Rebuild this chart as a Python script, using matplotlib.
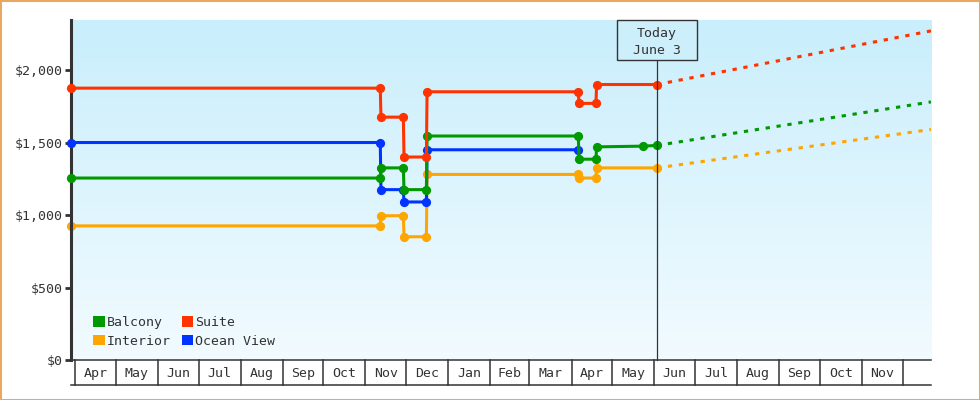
import matplotlib
matplotlib.use('Agg')
import matplotlib.pyplot as plt
import matplotlib.dates as mdates
import numpy as np
import pandas as pd
from matplotlib.patches import Patch, Rectangle
from matplotlib.transforms import blended_transform_factory

# ---------------- data ----------------
step_dates = ['2023-03-29', '2023-11-12', '2023-11-12 12:00', '2023-11-29', '2023-11-29 12:00',
              '2023-12-16', '2023-12-16 12:00', '2024-04-06', '2024-04-06 12:00', '2024-04-19',
              '2024-04-19 12:00', '2024-06-03']
balcony_dates = ['2023-03-29', '2023-11-12', '2023-11-12 12:00', '2023-11-29', '2023-11-29 12:00',
                 '2023-12-16', '2023-12-16 12:00', '2024-04-06', '2024-04-06 12:00', '2024-04-19',
                 '2024-04-19 12:00', '2024-05-24', '2024-06-03']
balcony_prices = [1255, 1255, 1325, 1325, 1175, 1175, 1545, 1545, 1385, 1385, 1470, 1475, 1480]
suite_prices = [1875, 1875, 1675, 1675, 1400, 1400, 1850, 1850, 1770, 1770, 1900, 1900]
ocean_dates = step_dates[:8]
ocean_prices = [1500, 1500, 1175, 1175, 1090, 1090, 1450, 1450]
interior_prices = [925, 925, 995, 995, 850, 850, 1280, 1280, 1255, 1255, 1325, 1325]

today = '2024-06-03'
today_label = 'Today\nJune 3'
proj_end = '2024-12-22'
suite_proj = [1900, 2270]
balcony_proj = [1480, 1780]
interior_proj = [1325, 1590]

x_start, x_end = '2023-03-29', '2024-12-22'
month_starts = pd.date_range('2023-04-01', '2024-12-01', freq='MS')
month_labels = ['Apr', 'May', 'Jun', 'Jul', 'Aug', 'Sep', 'Oct', 'Nov', 'Dec', 'Jan',
                'Feb', 'Mar', 'Apr', 'May', 'Jun', 'Jul', 'Aug', 'Sep', 'Oct', 'Nov']
y_ticks = [0, 500, 1000, 1500, 2000]
y_tick_labels = ['$0', '$500', '$1,000', '$1,500', '$2,000']

series = [
    ('Interior', step_dates, interior_prices, interior_proj, '#ffa500', 2),
    ('Ocean View', ocean_dates, ocean_prices, None, '#0033ff', 3),
    ('Balcony', balcony_dates, balcony_prices, balcony_proj, '#009900', 4),
    ('Suite', step_dates, suite_prices, suite_proj, '#ff3300', 5),
]

# ---------------- style ----------------
FONT = 'DejaVu Sans Mono'
FS = 9.5
TXT = '#333333'

fig = plt.figure(figsize=(9.8, 4.0), dpi=100)
fig.patch.set_facecolor('white')
ax = fig.add_axes([71 / 980, 40 / 400, 860 / 980, 340 / 400])

x0 = mdates.date2num(pd.Timestamp(x_start))
x1 = mdates.date2num(pd.Timestamp(x_end))
ax.set_xlim(x0, x1)
ax.set_ylim(0, 2345)

# gradient background
top_c = np.array([0xc9, 0xee, 0xfc]) / 255
bot_c = np.array([0xf2, 0xfb, 0xff]) / 255
t = np.linspace(0, 1, 256)[:, None]
grad = (top_c[None, :] * (1 - t) + bot_c[None, :] * t)[:, None, :]
ax.imshow(grad, extent=[0, 1, 0, 1], transform=ax.transAxes, aspect='auto', zorder=0)
ax.set_facecolor('none')

for name, d, v, proj, col, z in series:
    dd = pd.to_datetime(d, format='mixed')
    ax.plot(dd, v, color=col, lw=2.2, marker='o', ms=5.6, mec=col, mfc=col,
            zorder=z, solid_joinstyle='miter', clip_on=False)
    if proj is not None:
        ax.plot(pd.to_datetime([today, proj_end]), proj, color=col, lw=2.2,
                linestyle=(0, (1.4, 2.2)), zorder=z, dash_capstyle='butt')

# today marker
tx = mdates.date2num(pd.Timestamp(today))
tfrac = (tx - x0) / (x1 - x0)
box_bottom = (360 - 60.3) / 340
box_w = 80.5 / 860
ax.plot([tx, tx], [0, box_bottom], transform=blended_transform_factory(ax.transData, ax.transAxes),
        color=TXT, lw=0.9, zorder=6, clip_on=False)
ax.add_patch(Rectangle((tfrac - box_w / 2, box_bottom), box_w, 1 - box_bottom,
                       transform=ax.transAxes, facecolor='#cdeffc', edgecolor=TXT,
                       lw=1.0, zorder=7, clip_on=False))
ax.text(tfrac, (1 + box_bottom) / 2 - 0.005, today_label, transform=ax.transAxes, ha='center',
        va='center', multialignment='center', fontsize=FS, family=FONT, color=TXT,
        zorder=8, linespacing=1.35)

# axes styling
for s in ['top', 'right']:
    ax.spines[s].set_visible(False)
ax.spines['left'].set_color(TXT)
ax.spines['left'].set_linewidth(2.2)
ax.spines['bottom'].set_color(TXT)
ax.spines['bottom'].set_linewidth(1.1)
ax.set_yticks(y_ticks)
ax.set_yticklabels(y_tick_labels, family=FONT, fontsize=FS, color=TXT)
ax.tick_params(axis='y', length=4, width=2, color=TXT, pad=2)
ax.set_xticks([])

# month boxes below the axis
btrans = blended_transform_factory(ax.transData, ax.transAxes)
box_bot = -25 / 340
ax.plot([0, 1], [box_bot, box_bot], transform=ax.transAxes, color=TXT, lw=1.1, clip_on=False)
ms_num = [mdates.date2num(m) for m in month_starts]
for m in ms_num:
    if x0 <= m <= x1:
        ax.plot([m, m], [0, box_bot], transform=btrans, color=TXT, lw=1.1, clip_on=False)
for i, lab in enumerate(month_labels):
    a, b = ms_num[i], ms_num[i + 1]
    ax.text((a + b) / 2, box_bot / 2 - 0.003, lab, transform=btrans, ha='center', va='center',
            family=FONT, fontsize=FS, color=TXT, clip_on=False)

# legend
handles = [Patch(facecolor='#009900', edgecolor='none', label='Balcony'),
           Patch(facecolor='#ffa500', edgecolor='none', label='Interior'),
           Patch(facecolor='#ff3300', edgecolor='none', label='Suite'),
           Patch(facecolor='#0033ff', edgecolor='none', label='Ocean View')]
leg = ax.legend(handles=handles, ncol=2, loc='lower left', bbox_to_anchor=(0.0245, 0.032),
                frameon=False, prop={'family': FONT, 'size': FS}, handlelength=0.85,
                handleheight=0.85, handletextpad=0.15, columnspacing=0.85,
                labelspacing=0.42, borderpad=0.1, borderaxespad=0)
for txt in leg.get_texts():
    txt.set_color(TXT)
leg.set_zorder(9)

# outer border
fig.patches.append(Rectangle((0, 0), 1, 1, transform=fig.transFigure, fill=False,
                             edgecolor='#e8a862', lw=2.2))

fig.savefig('out.png', dpi=100)
